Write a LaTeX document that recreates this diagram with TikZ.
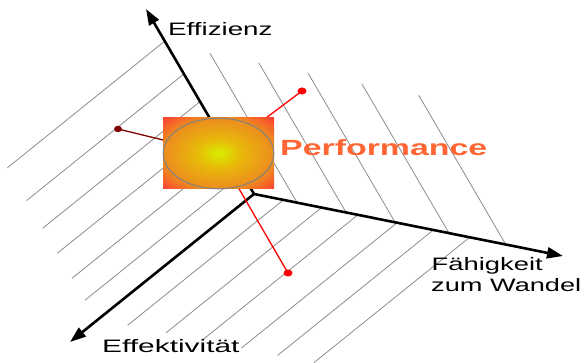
\documentclass[tikz,border=0pt]{standalone}
\usepackage{fontspec}
\setmainfont{Liberation Sans}
\usetikzlibrary{arrows.meta,calc,shapes.geometric}
\definecolor{pcen}{RGB}{215,238,0}
\definecolor{pmid}{RGB}{232,185,10}
\definecolor{pedge}{RGB}{236,140,30}
\definecolor{pcorner}{RGB}{255,65,50}
\definecolor{perfcol}{RGB}{255,102,51}
\definecolor{hatchgray}{RGB}{140,140,140}
\definecolor{darkred}{RGB}{128,0,0}
\pgfdeclareradialshading{perfshade}{\pgfpoint{0bp}{0bp}}{color(0bp)=(pcen); color(10bp)=(pmid); color(25bp)=(pedge); color(35bp)=(pcorner); color(50bp)=(pcorner)}
\begin{document}
\begin{tikzpicture}[x=1pt,y=-1pt,
  hatch/.style={draw=hatchgray, line width=0.8pt},
  axis/.style={line width=2.6pt, -{Triangle[length=16pt,width=11pt]}},
  lbl/.style={anchor=base west, inner sep=0pt, font=\fontsize{18}{21}\selectfont},
  dotnode/.style={ellipse, minimum width=9pt, minimum height=7pt, inner sep=0pt},
  conn/.style={line width=1.3pt}]
\useasboundingbox (0,0) rectangle (586,363);
\coordinate (O) at (254,194);
\coordinate (u1) at (-0.504,-0.864);
\coordinate (u2) at (-0.779,0.627);
\coordinate (u3) at (0.980,0.197);
% hatching
\foreach \a in {177,139,107,78,49,23.5}
  \draw[hatch] ($(O)+\a*(u1)$) -- ($(O)+\a*(u1)+202*(u2)$);
\foreach \b in {30,69,106,146,183,220}
  \draw[hatch] ($(O)+\b*(u3)$) -- ($(O)+\b*(u3)+200*(u2)$);
\foreach \b in {44,94,144,199,257}
  \draw[hatch] ($(O)+\b*(u3)$) -- ($(O)+\b*(u3)+173*(u1)$);
% axes
\coordinate (tE) at (146,9);
\coordinate (tK) at (70,342);
\coordinate (tF) at (563,256);
\draw[axis] (O) -- (tE);
\draw[axis] (O) -- (tK);
\draw[axis] (O) -- (tF);
% red connectors
\coordinate (C) at (218.5,153.5);
\node[dotnode, fill=red] (dUR) at (302,91) {};
\node[dotnode, fill=darkred, minimum width=8pt, minimum height=6.5pt] (dL) at (118,129) {};
\node[dotnode, fill=red] (dB) at (288,273) {};
\draw[conn, red] (C) -- (dUR.center);
\draw[conn, darkred] (C) -- (dL.center);
\draw[conn, red] (C) -- (dB.center);
% performance box
\shade[shading=perfshade] (163,118) rectangle (274,189);
\node[ellipse, draw=gray, line width=1pt, minimum width=110.6pt, minimum height=70.6pt, inner sep=0pt] (perf) at (C) {};
% labels
\node[lbl] (effz) at (168,36) {\scalebox{1.54}[1]{Effizienz}};
\node[lbl] (effk) at (102,352) {\scalebox{1.66}[1]{Effektivität}};
\node[lbl] (fw1) at (431.5,270.5) {\scalebox{1.52}[1]{Fähigkeit}};
\node[lbl] (fw2) at (431,291.5) {\scalebox{1.51}[1]{zum Wandel}};
\node[lbl, font=\bfseries\fontsize{22}{26}\selectfont, text=perfcol] (perftext) at (280,156) {\scalebox{1.54}[1]{Performance}};
\end{tikzpicture}
\end{document}
